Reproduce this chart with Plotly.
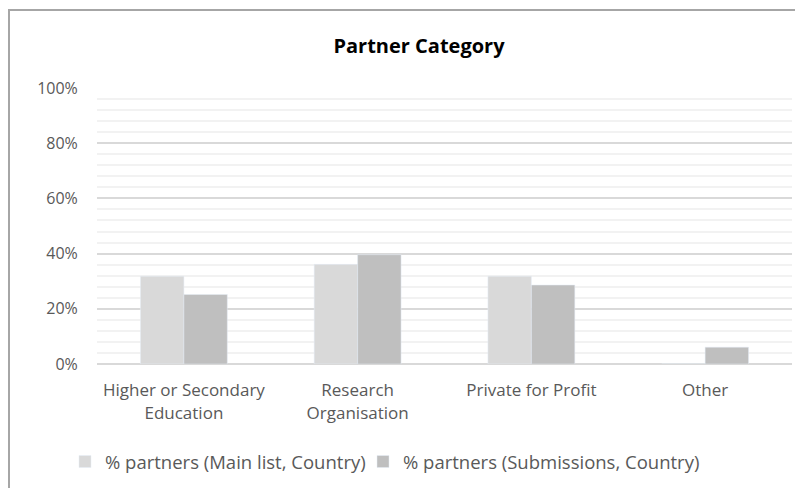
import plotly.graph_objects as go

categories = ["Higher or Secondary<br>Education", "Research<br>Organisation", "Private for Profit", "Other"]
main_list = [0.318, 0.361, 0.318, 0.0]
submissions = [0.252, 0.396, 0.286, 0.061]
series_names = ["% partners (Main list, Country)", "% partners (Submissions, Country)"]
y_ticks = [0, 0.2, 0.4, 0.6, 0.8, 1.0]
y_tick_labels = ["0%", "20%", "40%", "60%", "80%", "100%"]

FONT = "Open Sans, Lato, Arial, sans-serif"
TXT = "#595959"

fig = go.Figure()
fig.add_trace(go.Bar(x=categories, y=main_list, name=series_names[0], marker_color="#D9D9D9",
                     legendwidth=253))
fig.add_trace(go.Bar(x=categories, y=submissions, name=series_names[1], marker_color="#BFBFBF",
                     legendwidth=340))

# page has an 8px body margin; all positions below are in figure pixels
W, H = 795, 480
L, R, T, B = 89, 11, 80, 124
pw, ph = W - L - R, H - T - B

fig.update_layout(
    width=W, height=H,
    margin=dict(l=L, r=R, t=T, b=B, autoexpand=False),
    paper_bgcolor="white", plot_bgcolor="white",
    barmode="group", bargap=0.5, bargroupgap=0,
    font=dict(family=FONT, color=TXT, size=17),
    title=dict(text="<b>Partner Category</b>", x=411 / W, xref="container", xanchor="center",
               y=1 - 38 / H, yref="container", yanchor="middle",
               font=dict(family=FONT, size=20, color="#000000")),
    legend=dict(orientation="h", x=(57 - L) / pw, xanchor="left", y=(T + ph - 454) / ph,
                yanchor="middle", font=dict(family=FONT, size=18.5, color=TXT),
                itemwidth=30, traceorder="normal"),
    xaxis=dict(showgrid=False, showline=False, zeroline=False, ticks="outside", ticklen=11,
               tickcolor="rgba(0,0,0,0)", tickfont=dict(family=FONT, size=17, color=TXT)),
    yaxis=dict(range=[0, 1], tickvals=y_ticks, ticktext=y_tick_labels, showgrid=True,
               gridcolor="#D9D9D9", gridwidth=1.5, zeroline=True, zerolinecolor="#D9D9D9",
               zerolinewidth=1.5, showline=False, ticks="outside", ticklen=15,
               tickcolor="rgba(0,0,0,0)", tickfont=dict(family=FONT, size=16, color=TXT),
               minor=dict(dtick=0.04, showgrid=True, gridcolor="#F2F2F2", gridwidth=1.5)),
    shapes=[dict(type="rect", xref="paper", yref="paper",
                 x0=(1 - L) / pw, x1=(W + 20 - L) / pw, y0=-(B + 20) / ph, y1=1 + (T - 2) / ph,
                 line=dict(color="#A6A6A6", width=2), fillcolor="rgba(0,0,0,0)", layer="below")],
)

fig.write_html("out.html")
